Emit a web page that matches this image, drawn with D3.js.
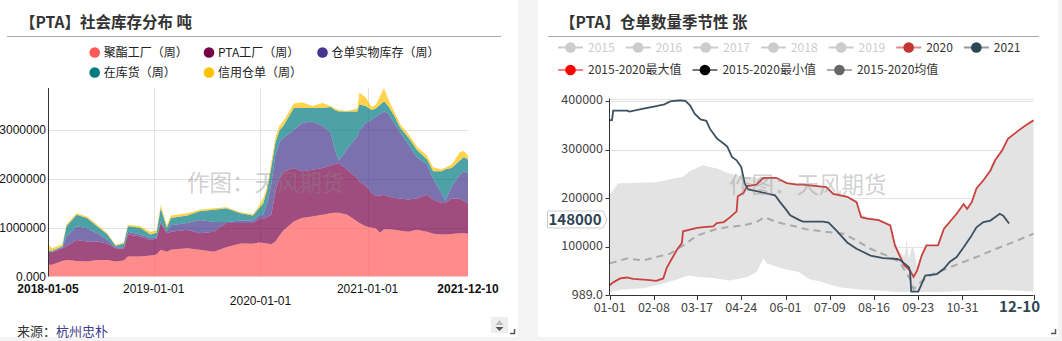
<!DOCTYPE html>
<html><head><meta charset="utf-8">
<script src="https://cdn.jsdelivr.net/npm/d3@7"></script>
<style>
html,body{margin:0;padding:0;background:#f3f3f3;}
svg{display:block;}
</style></head>
<body>
<svg id="c" width="1062" height="341"></svg>
<script>
// ---------- 社会库存分布 (weekly, tons) ----------
const stockDates = ["2018-01-05","2018-01-19","2018-02-23","2018-03-09","2018-04-13","2018-05-18","2018-06-22","2018-07-27","2018-08-24","2018-09-21","2018-10-05","2018-11-16","2018-12-21","2019-01-11","2019-01-25","2019-02-15","2019-03-01","2019-04-26","2019-06-07","2019-07-26","2019-09-06","2019-10-25","2019-12-06","2019-12-27","2020-01-10","2020-01-24","2020-02-07","2020-02-21","2020-03-06","2020-03-20","2020-04-24","2020-05-22","2020-06-26","2020-07-31","2020-08-28","2020-09-11","2020-09-25","2020-10-23","2020-11-27","2020-12-04","2020-12-25","2021-01-15","2021-01-29","2021-02-12","2021-02-26","2021-03-12","2021-04-02","2021-04-23","2021-05-21","2021-06-18","2021-07-23","2021-08-13","2021-09-10","2021-09-24","2021-10-15","2021-11-12","2021-11-26","2021-12-10"];
const polyesterPlant = [240000,240000,320000,340000,320000,310000,340000,340000,310000,330000,410000,410000,430000,450000,550000,510000,550000,580000,550000,510000,600000,680000,670000,700000,690000,680000,660000,720000,840000,950000,1130000,1200000,1230000,1270000,1300000,1310000,1310000,1270000,1130000,1100000,1030000,1000000,990000,900000,970000,970000,960000,940000,920000,960000,920000,880000,860000,860000,870000,890000,890000,880000];
const ptaPlant = [270000,260000,260000,280000,430000,410000,380000,340000,270000,240000,450000,410000,320000,330000,550000,380000,370000,380000,340000,410000,500000,420000,430000,480000,490000,540000,610000,1030000,1180000,1200000,1100000,960000,960000,960000,980000,1000000,1020000,920000,890000,850000,840000,720000,670000,760000,710000,680000,650000,660000,660000,640000,760000,700000,650000,650000,730000,710000,660000,630000];
const receiptStock = [5000,10000,20000,200000,280000,270000,170000,70000,20000,30000,60000,40000,40000,20000,30000,40000,130000,140000,270000,200000,20000,50000,50000,70000,100000,280000,630000,750000,730000,700000,780000,990000,990000,870000,670000,290000,50000,430000,860000,1050000,1280000,1500000,1620000,1670000,1710000,1700000,1540000,1350000,1120000,850000,620000,420000,210000,50000,250000,490000,610000,610000];
const goodsInStock = [15000,20000,20000,210000,240000,210000,140000,110000,30000,80000,110000,140000,70000,100000,270000,70000,150000,150000,180000,250000,280000,150000,100000,150000,220000,280000,350000,250000,250000,250000,450000,310000,280000,360000,530000,820000,1010000,770000,510000,530000,350000,200000,170000,190000,210000,150000,150000,100000,150000,150000,100000,160000,440000,640000,380000,290000,290000,280000];
const creditReceipt = [130000,50000,40000,40000,30000,30000,30000,30000,20000,20000,30000,30000,60000,50000,70000,50000,50000,50000,30000,30000,20000,20000,30000,50000,100000,70000,100000,100000,100000,100000,90000,120000,40000,100000,20000,30000,30000,10000,60000,240000,180000,60000,70000,180000,270000,150000,80000,70000,70000,70000,80000,80000,40000,40000,70000,170000,130000,70000];
const stockSeriesNames = ["聚酯工厂（周）","PTA工厂（周）","仓单实物库存（周）","在库货（周）","信用仓单（周）"];
const stockColors = ["#ff5a5a","#780048","#45358d","#007b80","#ffc000"];
const stockYTicks = [0,1000000,2000000,3000000];
const stockYLabels = ["0.000","1000000","2000000","3000000"];
const stockXTicks = ["2018-01-05","2019-01-01","2020-01-01","2021-01-01","2021-12-10"];

// ---------- 仓单数量季节性 (daily, 张) ----------
const days2020 = ["01-01","01-04","01-10","01-16","01-21","02-02","02-10","02-16","02-19","02-23","02-28","03-04","03-05","03-17","03-25","03-31","04-03","04-09","04-14","04-20","04-21","04-26","04-29","05-07","05-13","05-24","06-02","06-11","06-16","07-06","07-12","07-24","08-01","08-05","08-10","08-20","08-30","09-03","09-07","09-11","09-16","09-19","09-22","09-26","09-30","10-10","10-15","10-20","10-26","11-01","11-04","11-08","11-12","11-18","11-24","11-28","12-04","12-09","12-18","12-25","12-31"];
const receipts2020 = [21000,27000,35000,37000,34000,32000,30000,35000,57000,74000,95000,108000,132000,139000,141000,142000,149000,151000,160000,173000,204000,211000,225000,228000,242000,242000,231000,228000,228000,223000,209000,203000,192000,161000,158000,155000,144000,103000,82000,62000,51000,38000,51000,82000,103000,103000,137000,151000,168000,188000,178000,192000,220000,237000,257000,278000,298000,322000,339000,351000,360000];
const days2021 = ["01-01","01-03","01-04","01-16","01-18","01-30","02-09","02-17","02-22","03-02","03-07","03-11","03-15","03-20","03-25","03-28","04-03","04-09","04-12","04-16","04-20","04-24","04-27","04-30","05-10","05-23","05-27","06-02","06-05","06-13","06-16","07-03","07-08","07-15","07-24","08-01","08-13","08-24","09-05","09-08","09-15","09-16","09-17","09-23","09-26","09-29","10-09","10-15","10-20","10-26","11-01","11-07","11-12","11-18","11-24","12-02","12-05","12-10"];
const receipts2021 = [360000,361000,380000,380000,378000,384000,389000,393000,399000,401000,400000,391000,374000,362000,359000,343000,323000,312000,306000,285000,278000,264000,230000,218000,213000,206000,193000,175000,165000,155000,152000,152000,150000,133000,109000,96000,82000,77000,75000,72000,58000,48000,8000,8000,24000,41000,44000,55000,69000,79000,99000,120000,140000,151000,154000,168000,164000,148000];
const daysAvg = ["01-01","01-16","01-30","02-10","02-22","03-05","03-17","04-03","04-14","04-26","05-07","05-14","05-24","06-11","06-19","07-09","07-21","08-01","08-13","08-27","09-07","09-16","09-19","09-25","10-03","10-17","11-01","11-12","11-29","12-17","12-31"];
const receiptsAvg = [66000,76000,72000,79000,86000,103000,123000,137000,141000,144000,151000,161000,151000,141000,136000,130000,127000,113000,96000,82000,69000,34000,13000,27000,41000,55000,69000,79000,96000,113000,127000];
const daysMax = ["01-01","01-03","01-08","01-28","02-10","02-22","03-05","03-11","03-22","04-03","04-14","04-26","05-07","05-13","05-24","06-02","06-11","07-06","07-12","07-24","08-01","08-05","08-20","08-30","09-03","09-07","09-11","09-13","09-15","09-17","09-19","09-22","09-26","09-30","10-10","10-15","10-20","10-26","11-01","11-04","11-08","11-12","11-18","11-24","11-28","12-04","12-09","12-18","12-25","12-31"];
const receiptsMax = [209000,212000,230000,232000,233000,239000,244000,256000,268000,261000,251000,244000,242000,243000,243000,233000,230000,224000,212000,205000,195000,165000,157000,146000,110000,90000,80000,115000,75000,95000,98000,60000,85000,103000,103000,137000,151000,168000,188000,182000,192000,220000,237000,257000,278000,298000,322000,339000,351000,360000];
const daysMin = ["01-01","01-10","01-30","02-16","03-10","03-17","03-31","04-14","04-29","05-07","05-13","05-16","05-30","06-13","06-21","07-03","07-17","08-01","08-18","09-07","10-10","11-07","12-02","12-31"];
const receiptsMin = [7000,12000,15000,24000,41000,38000,36000,31000,38000,48000,76000,66000,55000,48000,34000,27000,17000,13000,10000,7000,7000,10000,12000,8000];
const seasonXTicks = ["01-01","02-08","03-17","04-24","06-01","07-09","08-16","09-23","10-31"];
const seasonEndLabel = "12-10";
const seasonYTicks = [989,100000,200000,300000,400000];
const seasonYLabels = ["989.0","100000","200000","300000","400000"];
const seasonYMax = 405000;
const legendRow1 = ["2015","2016","2017","2018","2019","2020","2021"];
const legendRow2 = ["2015-2020最大值","2015-2020最小值","2015-2020均值"];

const CJK = "'Noto Sans CJK SC','Noto Sans',sans-serif";
const ARIAL = "'Liberation Sans',Arial,sans-serif";
const svg = d3.select("#c");

// panel backgrounds
svg.append("rect").attr("x",0).attr("y",0).attr("width",518).attr("height",337).attr("fill","#fff");
svg.append("rect").attr("x",538).attr("y",0).attr("width",520).attr("height",337).attr("fill","#fff");

function header(g, x0, x1, textX, title){
  g.append("text").attr("x",textX).attr("y",28).attr("font-family",CJK).attr("font-size",15.5)
    .attr("font-weight","bold").attr("fill","#333").text(title);
  g.append("line").attr("x1",x0).attr("x2",x1).attr("y1",36.5).attr("y2",36.5).attr("stroke","#aaa");
}

// ================= left chart =================
const L = svg.append("g");
header(L, 7, 501, 20, "【PTA】社会库存分布 吨");

const parseFull = d3.timeParse("%Y-%m-%d");
const stockRows = stockDates.map((d,i)=>({
  date: parseFull(d), s0: polyesterPlant[i], s1: ptaPlant[i], s2: receiptStock[i], s3: goodsInStock[i], s4: creditReceipt[i]
}));
const stackKeys = ["s0","s1","s2","s3","s4"];
const stacked = d3.stack().keys(stackKeys)(stockRows);
const xL = d3.scaleTime().domain(d3.extent(stockRows,d=>d.date)).range([48,468]);
const yL = d3.scaleLinear().domain([0, d3.max(stacked[stacked.length-1], d=>d[1])]).range([276.5,88]);

// grid
L.selectAll(".hg").data(stockYTicks.slice(1)).join("line")
  .attr("x1",48).attr("x2",468).attr("y1",d=>Math.round(yL(d))+0.5).attr("y2",d=>Math.round(yL(d))+0.5)
  .attr("stroke","#e3e3e3");
L.selectAll(".vg").data(stockXTicks.slice(1,4)).join("line")
  .attr("x1",d=>Math.round(xL(parseFull(d)))+0.5).attr("x2",d=>Math.round(xL(parseFull(d)))+0.5)
  .attr("y1",88).attr("y2",276.5).attr("stroke","#e3e3e3");

const areaL = d3.area().x(d=>xL(d.data.date)).y0(d=>yL(d[0])).y1(d=>yL(d[1]));
L.selectAll(".layer").data(stacked).join("path")
  .attr("d",areaL).attr("fill",(d,i)=>stockColors[i]).attr("fill-opacity",0.7);

// y axis
L.append("line").attr("x1",48.5).attr("x2",48.5).attr("y1",88).attr("y2",276.5).attr("stroke","#333");
L.selectAll(".yl").data(stockYTicks).join("text")
  .attr("x",46).attr("y",d=>yL(d)+4).attr("text-anchor","end")
  .attr("font-family",ARIAL).attr("font-size",12).attr("fill","#111")
  .text((d,i)=>stockYLabels[i]);
// x labels
L.selectAll(".xl").data(stockXTicks).join("text")
  .attr("x",d=>xL(parseFull(d))).attr("y",(d,i)=>i===2?304.5:293).attr("text-anchor","middle")
  .attr("font-family",ARIAL).attr("font-size",12).attr("fill","#111")
  .attr("font-weight",(d,i)=>(i===0||i===stockXTicks.length-1)?"bold":"normal")
  .text(d=>d);

// legend
const legL = [[94.7,52.5],[209,52.5],[322.5,52.5],[94.7,72.5],[209,72.5]];
stockSeriesNames.forEach((name,i)=>{
  L.append("circle").attr("cx",legL[i][0]).attr("cy",legL[i][1]).attr("r",5.3).attr("fill",stockColors[i]);
  L.append("text").attr("x",legL[i][0]+9).attr("y",legL[i][1]+4.3).attr("font-family",CJK)
    .attr("font-size",12).attr("fill","#222").text(name);
});

// watermark
L.append("text").attr("x",187).attr("y",191).attr("font-family",CJK).attr("font-size",22.5)
  .attr("fill","#888").attr("fill-opacity",0.4).text("作图：天风期货");

// source
const src = L.append("text").attr("x",17).attr("y",336).attr("font-family",CJK).attr("font-size",13);
src.append("tspan").attr("fill","#333").text("来源：");
src.append("tspan").attr("fill","#3d3a8c").text("杭州忠朴");

// scroll widget + resize grip
L.append("rect").attr("x",491).attr("y",317).attr("width",17).attr("height",16).attr("fill","#eee");
L.append("path").attr("d","M495.5,325 L499.5,320 L503.5,325 Z").attr("fill","#bbb");
L.append("path").attr("d","M495.5,327 L503.5,327 L499.5,331 Z").attr("fill","#555");
L.append("path").attr("d","M510,333.5 H514.5 V329").attr("fill","none").attr("stroke","#555").attr("stroke-width",1.5);

// ================= right chart =================
const R = svg.append("g");
header(R, 548, 1039, 560, "【PTA】仓单数量季节性 张");

const parseMD = d3.timeParse("%m-%d");
const xR = d3.scaleTime().domain([parseMD("01-01"), parseMD("12-31")]).range([609.7,1033.5]);
const yR = d3.scaleLinear().domain([seasonYTicks[0], seasonYMax]).range([295,98.5]);

// grid
R.selectAll(".hg").data(seasonYTicks.slice(1).concat([seasonYMax])).join("line")
  .attr("x1",609.5).attr("x2",1033.5).attr("y1",d=>Math.round(yR(d))+0.5).attr("y2",d=>Math.round(yR(d))+0.5)
  .attr("stroke","#e3e3e3");

// min/max band
const maxPts = daysMax.map((d,i)=>[xR(parseMD(d)), yR(receiptsMax[i])]);
const minPts = daysMin.map((d,i)=>[xR(parseMD(d)), yR(receiptsMin[i])]).reverse();
R.append("path").attr("d", d3.line()(maxPts.concat(minPts)) + "Z").attr("fill","#e3e3e3");

const lineR = d3.line().x(d=>xR(parseMD(d[0]))).y(d=>yR(d[1]));
R.append("path").attr("d", lineR(daysAvg.map((d,i)=>[d,receiptsAvg[i]])))
  .attr("fill","none").attr("stroke","#aaa").attr("stroke-width",2).attr("stroke-dasharray","7,5");
R.append("path").attr("d", lineR(days2020.map((d,i)=>[d,receipts2020[i]])))
  .attr("fill","none").attr("stroke","#c9413f").attr("stroke-width",1.8);
R.append("path").attr("d", lineR(days2021.map((d,i)=>[d,receipts2021[i]])))
  .attr("fill","none").attr("stroke","#3d5060").attr("stroke-width",1.8);

// axes
R.append("line").attr("x1",609.5).attr("x2",609.5).attr("y1",98.5).attr("y2",295).attr("stroke","#333");
R.append("line").attr("x1",609.5).attr("x2",1033.5).attr("y1",295.5).attr("y2",295.5).attr("stroke","#333");
R.selectAll(".yt").data(seasonYTicks).join("line")
  .attr("x1",605.5).attr("x2",609.5).attr("y1",d=>Math.round(yR(d))+0.5).attr("y2",d=>Math.round(yR(d))+0.5).attr("stroke","#333");
R.selectAll(".yl").data(seasonYTicks).join("text")
  .attr("x",603).attr("y",d=>yR(d)+3.5).attr("text-anchor","end")
  .attr("font-family",CJK).attr("font-size",12.5).attr("fill","#444")
  .text((d,i)=>seasonYLabels[i]);
const xTickVals = seasonXTicks.map(parseMD).concat([parseMD("12-31")]);
R.selectAll(".xt").data(xTickVals).join("line")
  .attr("x1",d=>Math.round(xR(d))+0.5).attr("x2",d=>Math.round(xR(d))+0.5).attr("y1",295).attr("y2",300).attr("stroke","#333");
R.selectAll(".xl").data(seasonXTicks).join("text")
  .attr("x",d=>xR(parseMD(d))).attr("y",312).attr("text-anchor","middle")
  .attr("font-family",CJK).attr("font-size",12.5).attr("fill","#444").text(d=>d);
R.append("text").attr("x",1040).attr("y",312).attr("text-anchor","end")
  .attr("font-family",CJK).attr("font-size",15).attr("font-weight","bold").attr("fill","#2f4554").text(seasonEndLabel);

// value tag of the latest 2021 point
const lastVal = receipts2021[receipts2021.length-1];
const ty = yR(lastVal) - 4;
R.append("path").attr("d",`M547.5,${ty-8.5} H603 L607,${ty} L603,${ty+8.5} H547.5 Z`)
  .attr("fill","#fff").attr("stroke","#ccc");
R.append("text").attr("x",575).attr("y",ty+5.5).attr("text-anchor","middle")
  .attr("font-family",CJK).attr("font-size",15).attr("font-weight","bold").attr("fill","#2f4554").text(lastVal);

// watermark
R.append("text").attr("x",729).attr("y",193).attr("font-family",CJK).attr("font-size",22.5)
  .attr("fill","#888").attr("fill-opacity",0.4).text("作图：天风期货");

// legend
const legStyle = {
  "2015":["#ccc","#ccc","#ccc"],"2016":["#ccc","#ccc","#ccc"],"2017":["#ccc","#ccc","#ccc"],
  "2018":["#ccc","#ccc","#ccc"],"2019":["#ccc","#ccc","#ccc"],
  "2020":["#dd8a88","#c23531","#333"],"2021":["#8e9aa5","#2f4554","#333"],
  "2015-2020最大值":["#ff7f7f","#ff0000","#333"],"2015-2020最小值":["#777","#000","#333"],"2015-2020均值":["#aaa","#666","#333"]
};
function legendRow(names, y){
  let x = 558;
  names.forEach(name=>{
    const [lc, cc, tc] = legStyle[name];
    R.append("line").attr("x1",x).attr("x2",x+25).attr("y1",y).attr("y2",y).attr("stroke",lc).attr("stroke-width",2);
    R.append("circle").attr("cx",x+12.5).attr("cy",y).attr("r",5.3).attr("fill",cc);
    const t = R.append("text").attr("x",x+30).attr("y",y+4.3).attr("font-family",CJK).attr("font-size",12)
      .attr("fill",tc).text(name);
    x += 30 + t.node().getComputedTextLength() + 11;
  });
}
legendRow(legendRow1, 47.5);
legendRow(legendRow2, 70);

R.append("path").attr("d","M1051,333.5 H1055.5 V329").attr("fill","none").attr("stroke","#555").attr("stroke-width",1.5);
</script>
</body></html>
